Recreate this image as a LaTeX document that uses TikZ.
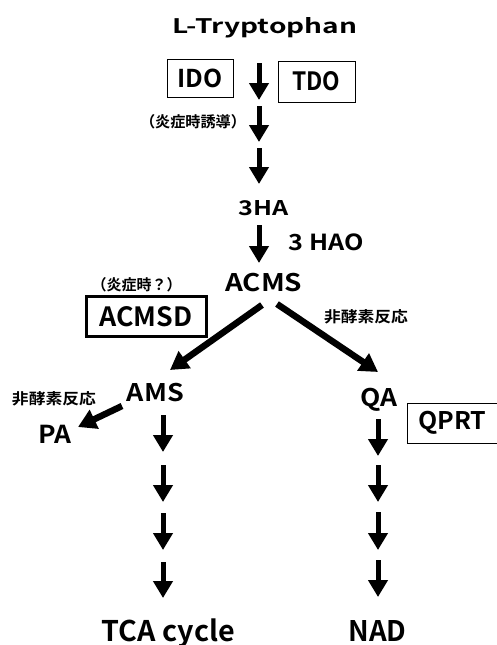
\documentclass[tikz,border=0pt]{standalone}
\usepackage{graphicx}
\usepackage{fontspec}
\setmainfont{Noto Sans CJK JP}[BoldFont={Noto Sans CJK JP Bold}]
\usetikzlibrary{arrows.meta}
% fit text to a measured width and cap height
\newcommand\fitT[3]{\resizebox{#1pt}{#2pt}{\bfseries #3}}
% fit small CJK text to width and total height
\newcommand\fitS[3]{\resizebox*{#1pt}{#2pt}{\bfseries #3}}
\begin{document}
\begin{tikzpicture}[x=1pt,y=-1pt,
  lab/.style={inner sep=0pt, anchor=base west},
  sml/.style={inner sep=0pt},
  enz/.style={draw, line width=0.9pt, inner sep=0pt},
  dn/.style={-{Triangle[width=19pt,length=17pt]}, line width=5pt},
  dg/.style={-{Triangle[width=20pt,length=18pt]}, line width=6.5pt}]
\useasboundingbox (0,0) rectangle (497,645);
% main labels (anchored at left end of baseline)
\node[lab] (trp) at (172,33.3) {\fitT{185}{16}{L-Tryptophan}};
\node[lab] (ha) at (238,215) {\fitT{50}{15}{3HA}};
\node[lab] (hao) at (288.3,250) {\fitT{75}{16.7}{3 HAO}};
\node[lab] (acms) at (225,291.7) {\fitT{77}{18.3}{ACMS}};
\node[lab] (ams) at (126.7,401.7) {\fitT{57}{18.3}{AMS}};
\node[lab] (pa) at (38.3,443.3) {\fitT{33}{18.3}{PA}};
\node[lab] (qa) at (360,406.7) {\fitT{37}{18.3}{QA}};
\node[lab] (tca) at (101.7,641) {\fitT{133}{22.7}{TCA cycle}};
\node[lab] (nad) at (348.3,641) {\fitT{58}{21}{NAD}};
% enzyme boxes
\node[enz, minimum width=66pt, minimum height=38pt] (ido) at (200,78.5) {\fitT{45}{18.5}{IDO}};
\node[enz, minimum width=77pt, minimum height=41pt] (tdo) at (316.5,81.5) {\fitT{48}{19}{TDO}};
\node[enz, line width=3pt, minimum width=120pt, minimum height=40pt] (acmsd) at (146,316.7) {\fitT{93}{20}{ACMSD}};
\node[enz, minimum width=90pt, minimum height=40pt] (qprt) at (452.5,423) {\fitT{68}{18.3}{QPRT}};
% small notes
\node[sml] (ind) at (193,121.5) {\fitS{106}{14.5}{（炎症時誘導）}};
\node[sml] (inf) at (136.5,285) {\fitS{90}{14.5}{（炎症時？）}};
\node[sml] (ne1) at (366,316.5) {\fitS{84}{14.5}{非酵素反応}};
\node[sml] (ne2) at (54,399) {\fitS{84}{14.5}{非酵素反応}};
% coordinates for arrows
\coordinate (a1s) at (259,63); \coordinate (a1e) at (259,100);
\coordinate (a2s) at (259,106); \coordinate (a2e) at (259,142);
\coordinate (a3s) at (259,148); \coordinate (a3e) at (259,184);
\coordinate (a4s) at (259,225); \coordinate (a4e) at (259,263);
\coordinate (l1s) at (163,415); \coordinate (l1e) at (163,452);
\coordinate (l2s) at (163,465); \coordinate (l2e) at (163,502);
\coordinate (l3s) at (163,513); \coordinate (l3e) at (163,550);
\coordinate (l4s) at (163,562); \coordinate (l4e) at (163,598);
\coordinate (r1s) at (378,419); \coordinate (r1e) at (378,456);
\coordinate (r2s) at (378,465); \coordinate (r2e) at (378,502);
\coordinate (r3s) at (378,512); \coordinate (r3e) at (378,550);
\coordinate (r4s) at (378,560); \coordinate (r4e) at (378,597);
\coordinate (dls) at (262,305); \coordinate (dle) at (170,370);
\coordinate (drs) at (277,304); \coordinate (dre) at (378,372);
\coordinate (pas) at (122,406); \coordinate (pae) at (78,427);
\foreach \a in {a1,a2,a3,a4,l1,l2,l3,l4,r1,r2,r3,r4}{
  \draw[dn] (\a s) -- (\a e);
}
\draw[dg] (dls) -- (dle);
\draw[dg] (drs) -- (dre);
\draw[dg] (pas) -- (pae);
\end{tikzpicture}
\end{document}
